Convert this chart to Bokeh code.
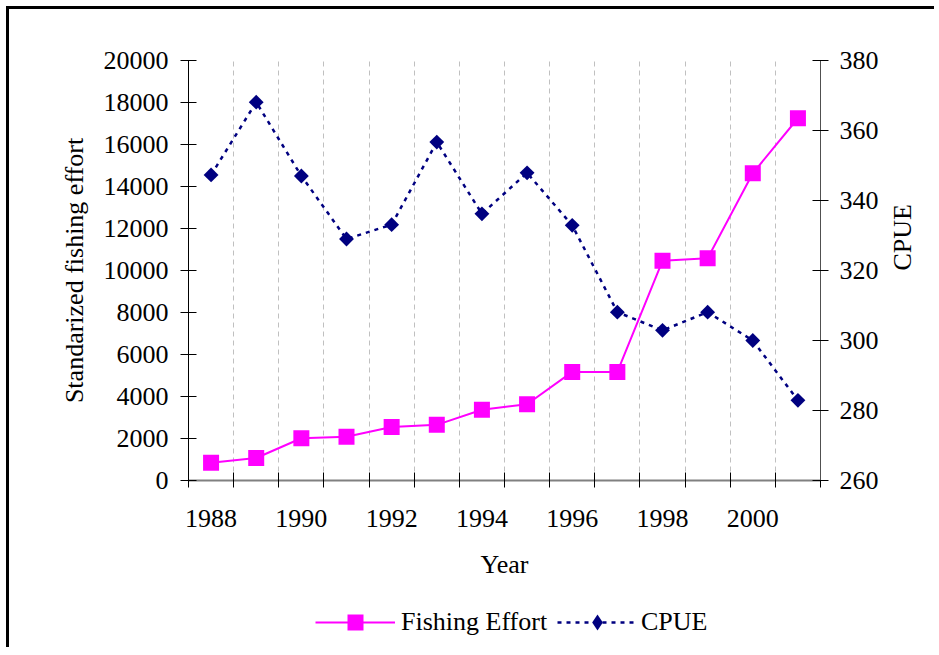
import math
from bokeh.plotting import figure
from bokeh.layouts import column
from bokeh.models import (Range1d, LinearAxis, FixedTicker, Legend, LegendItem)
from bokeh.embed import file_html
from bokeh.resources import INLINE

years = [1988, 1989, 1990, 1991, 1992, 1993, 1994, 1995, 1996, 1997, 1998, 1999, 2000, 2001]
fishing_effort = [850, 1070, 2010, 2080, 2550, 2650, 3370, 3630, 5170, 5170, 10460, 10580, 14630, 17250]
cpue = [347.3, 368.1, 347.0, 329.0, 333.1, 356.7, 336.2, 347.9, 332.9, 308.1, 302.9, 308.1, 300.0, 282.9]
left_ticks = list(range(0, 20001, 2000))
right_ticks = list(range(260, 381, 20))
labelled_years = [1988, 1990, 1992, 1994, 1996, 1998, 2000]

FONT = "Liberation Serif"
FS = "26px"
EFF_COLOR = "#FF00FF"
CPUE_COLOR = "#000080"

idx = list(range(len(years)))
boundaries = [i - 0.5 for i in range(len(years) + 1)]

p = figure(width=925, height=586, output_backend="svg", toolbar_location=None,
           x_range=Range1d(-0.5, len(years) - 0.5), y_range=Range1d(0, 20000),
           min_border_left=179, min_border_top=51, min_border_right=113, min_border_bottom=115)
p.outline_line_color = None
p.background_fill_color = "white"
p.border_fill_color = "white"
p.extra_y_ranges = {"cpue": Range1d(260, 380)}

# grids
p.ygrid.grid_line_color = None
p.xgrid.ticker = FixedTicker(ticks=boundaries[1:-1])
p.xgrid.grid_line_color = "#c0c0c0"
p.xgrid.grid_line_dash = "5 4"
p.xgrid.grid_line_width = 1

# bottom axis
xa = p.xaxis[0]
xa.ticker = FixedTicker(ticks=[years.index(y) for y in labelled_years], minor_ticks=boundaries)
xa.major_label_overrides = {years.index(y): str(y) for y in labelled_years}
xa.major_tick_in = 0
xa.major_tick_out = 0
xa.minor_tick_in = 8
xa.minor_tick_out = 7
xa.minor_tick_line_color = "black"
xa.axis_line_color = "#808080"
xa.axis_line_width = 2
xa.major_label_standoff = 22
xa.axis_label = "Year"
xa.axis_label_standoff = 20

# left axis
ya = p.yaxis[0]
ya.ticker = FixedTicker(ticks=left_ticks)
ya.minor_tick_line_color = None
ya.major_tick_in = 8
ya.major_tick_out = 8
ya.axis_line_color = "black"
ya.major_label_standoff = 12
ya.axis_label = "Standarized fishing effort"
ya.axis_label_standoff = 12

# right axis
ra = LinearAxis(y_range_name="cpue", ticker=FixedTicker(ticks=right_ticks))
ra.minor_tick_line_color = None
ra.major_tick_in = 8
ra.major_tick_out = 8
ra.axis_line_color = "#505050"
ra.major_label_standoff = 11
ra.axis_label = "CPUE"
ra.axis_label_standoff = 21
ra.axis_label_orientation = math.pi / 2
p.add_layout(ra, "right")

for ax in [xa, ya, ra]:
    ax.major_label_text_font = FONT
    ax.major_label_text_font_size = FS
    ax.major_label_text_color = "black"
    ax.axis_label_text_font = FONT
    ax.axis_label_text_font_size = FS
    ax.axis_label_text_font_style = "normal"
    ax.axis_label_text_color = "black"
    ax.major_tick_line_color = "black"

# series
p.line(idx, fishing_effort, line_color=EFF_COLOR, line_width=2)
p.scatter(idx, fishing_effort, marker="square", size=16, fill_color=EFF_COLOR, line_color=None)
p.line(idx, cpue, y_range_name="cpue", line_color=CPUE_COLOR, line_width=2.5, line_dash="4 5")
p.scatter(idx, cpue, y_range_name="cpue", marker="square", angle=math.pi / 4,
          size=10.5, fill_color=CPUE_COLOR, line_color=None)

# legend strip (separate figure so the legend is not clipped by the main frame)
lg = figure(width=925, height=52, output_backend="svg", toolbar_location=None,
            x_range=Range1d(0, 1), y_range=Range1d(0, 1),
            x_axis_location=None, y_axis_location=None,
            min_border_left=0, min_border_right=0, min_border_top=0, min_border_bottom=0)
lg.outline_line_color = None
lg.grid.grid_line_color = None
lg.border_fill_color = "white"
off = [-10, -9]
l1 = lg.line(off, off, line_color=EFF_COLOR, line_width=2)
m1 = lg.scatter(off, off, marker="square", fill_color=EFF_COLOR, line_color=None)
l2 = lg.line(off, off, line_color=CPUE_COLOR, line_width=2.5, line_dash="4 5")
m2 = lg.scatter(off, off, marker="diamond", fill_color=CPUE_COLOR, line_color=None)

common = dict(orientation="horizontal", glyph_width=80, padding=0, margin=0,
              border_line_color=None, background_fill_alpha=0,
              label_text_font=FONT, label_text_font_size=FS, label_text_color="black")
leg1 = Legend(items=[LegendItem(label="Fishing Effort", renderers=[l1, m1])],
              location=(127, 5), glyph_height=40, label_standoff=6, **common)
leg2 = Legend(items=[LegendItem(label="CPUE", renderers=[l2, m2])],
              location=(369, 5), glyph_height=40, label_standoff=4, **common)
lg.add_layout(leg1, "center")
lg.add_layout(leg2, "center")

layout = column(p, lg, spacing=0)
layout.styles = {"border-top": "3px solid black", "border-left": "3px solid black",
                 "margin-top": "6px", "margin-left": "6px"}

open("out.html", "w").write(file_html(layout, INLINE))
